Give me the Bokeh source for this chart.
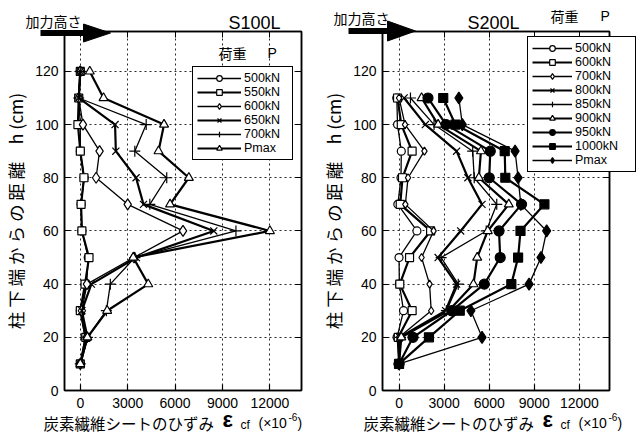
from bokeh.plotting import figure
from bokeh.models import (Range1d, LinearAxis, Legend, LegendItem, FixedTicker)
from bokeh.core.properties import value
from bokeh.layouts import row
from bokeh.embed import file_html
from bokeh.resources import INLINE

# ---------------- data ----------------
heights_L = [10, 20, 30, 40, 50, 60, 70, 80, 90, 100, 110, 120]
L_500 = [0, 300, 0, 400, 500, 100, 50, 250, 0, 0, -100, 0]
L_550 = [0, 350, 0, 300, 550, 100, 50, 230, 0, -150, -100, 0]
L_600 = [0, 400, 100, 420, 3400, 6500, 3000, 1000, 1220, 170, -100, 0]
L_650 = [0, 450, 100, 700, 3550, 8450, 4000, 3530, 2250, 2200, -100, 0]
L_700 = [0, 450, 1650, 1900, 3450, 9850, 4400, 5470, 3450, 4170, -100, 0]
L_pmax = [0, 450, 1700, 4300, 3350, 12000, 5680, 6870, 4950, 5300, 1470, 600]
labels_L = ["500kN", "550kN", "600kN", "650kN", "700kN", "Pmax"]

heights_R = [10, 20, 30, 40, 50, 60, 70, 80, 90, 100, 110]
R_500 = [0, -130, 300, 20, 0, 1190, -80, 130, 150, -100, -150]
R_600 = [0, -50, 870, 50, 700, 2100, 80, 230, 870, 150, -100]
R_700 = [0, 0, 2140, 2030, 1500, 2300, 420, 600, 1690, 400, 0]
R_800 = [0, 50, 3100, 3830, 2600, 4100, 5520, 4580, 3830, 1750, 340]
R_850 = [0, 100, 3150, 3940, 2800, 5800, 6500, 5000, 4900, 2330, 760]
R_900 = [0, 150, 3300, 4950, 5200, 5900, 7300, 5310, 5450, 2600, 1500]
R_950 = [0, 930, 3500, 5670, 6730, 6650, 8150, 6000, 6070, 3130, 1925]
R_1000 = [0, 1990, 4040, 7470, 7920, 8080, 9670, 7070, 7030, 3750, 2940]
R_pmax = [0, 5520, 4780, 8650, 9440, 9820, 8100, 7920, 7720, 4210, 3980]
labels_R = ["500kN", "600kN", "700kN", "800kN", "850kN", "900kN", "950kN", "1000kN", "Pmax"]

x_ticks = [0, 3000, 6000, 9000, 12000]
y_ticks = [0, 20, 40, 60, 80, 100, 120]

NUM_FONT = "Liberation Sans"
JP_FONT = "Noto Sans CJK JP"

# (marker, size, fill, line width)
styles_L = [("circle", 8, "white", 1.3), ("square", 8, "white", 2.2),
            ("diamond", 11, "white", 1.3), ("x", 10, None, 2.2),
            ("cross", 11, None, 1.3), ("triangle", 9, "white", 2.2)]
styles_R = [("circle", 8, "white", 1.3), ("square", 8, "white", 2.2),
            ("diamond", 8, "white", 1.3), ("x", 10, None, 2.2),
            ("cross", 11, None, 1.3), ("triangle", 9, "white", 2.2),
            ("circle", 10, "black", 2.2), ("square", 9, "black", 2.2),
            ("diamond", 12, "black", 1.3)]

YLABEL = "柱 下 端 か ら の 距 離　h (cm)"
XLABEL = "炭素繊維シートのひずみ"

LEG_KW = dict(border_line_color="black", border_line_width=1, border_line_alpha=1,
              background_fill_color="white", background_fill_alpha=1,
              label_text_font=NUM_FONT, label_text_font_size="12.5px", label_text_color="black",
              glyph_height=14, label_height=14, spacing=0, padding=4, label_standoff=3, margin=0)

FRAME_TOP, FRAME_BOTTOM = 31, 390   # shared by both panels (row aligns frames)


def make_panel(fl, fr, canvas_left, canvas_width, xr, yr, heights, series, labels, styles):
    p = figure(width=canvas_width, height=443, output_backend="svg", toolbar_location=None,
               x_range=Range1d(*xr), y_range=Range1d(*yr),
               min_border_left=fl - canvas_left, min_border_right=canvas_left + canvas_width - fr,
               min_border_top=FRAME_TOP, min_border_bottom=443 - FRAME_BOTTOM)
    p.background_fill_color = "white"
    p.border_fill_color = "white"
    p.outline_line_color = "black"
    p.outline_line_width = 1.5

    for ax in (p.xaxis[0], p.yaxis[0]):
        ax.major_tick_in = 6
        ax.major_tick_out = 0
        ax.minor_tick_line_color = None
        ax.axis_line_width = 1.5
        ax.axis_line_color = "black"
        ax.major_tick_line_color = "black"
        ax.major_tick_line_width = 1.2
        ax.major_label_text_font = NUM_FONT
        ax.major_label_text_font_size = "14px"
        ax.major_label_text_color = "black"
    p.xaxis.ticker = FixedTicker(ticks=x_ticks)
    p.yaxis.ticker = FixedTicker(ticks=y_ticks)
    p.xaxis.major_label_standoff = 7
    p.yaxis.major_label_standoff = 6
    p.yaxis.axis_label = YLABEL
    p.yaxis.axis_label_text_font = JP_FONT
    p.yaxis.axis_label_text_font_size = "17.5px"
    p.yaxis.axis_label_text_font_style = "normal"
    p.yaxis.axis_label_text_color = "black"
    p.yaxis.axis_label_standoff = 4

    top = LinearAxis(ticker=FixedTicker(ticks=x_ticks), major_tick_in=6, major_tick_out=0,
                     minor_tick_line_color=None, axis_line_width=1.5,
                     major_label_overrides={t: "" for t in x_ticks})
    right = LinearAxis(ticker=FixedTicker(ticks=y_ticks), major_tick_in=6, major_tick_out=0,
                       minor_tick_line_color=None, axis_line_width=1.5,
                       major_label_overrides={t: "" for t in y_ticks})
    p.add_layout(top, "above")
    p.add_layout(right, "right")

    p.xgrid.ticker = FixedTicker(ticks=x_ticks)
    p.ygrid.ticker = FixedTicker(ticks=y_ticks)
    for g in (p.xgrid[0], p.ygrid[0]):
        g.grid_line_color = "black"
        g.grid_line_dash = "2 3"
        g.grid_line_width = 1
        g.grid_line_alpha = 0.85

    items = []
    for vals, lab, (mk, sz, fill, lw) in zip(series, labels, styles):
        lr = p.line(vals, heights, line_color="black", line_width=lw)
        sr = p.scatter(vals, heights, marker=mk, size=sz, line_color="black",
                       fill_color=fill, line_width=1.2)
        items.append(LegendItem(label=lab, renderers=[lr, sr]))
    return p, items


p1, items_L = make_panel(64, 301, 0, 318, (-1000, 14000), (0, 135), heights_L,
                         [L_500, L_550, L_600, L_650, L_700, L_pmax], labels_L, styles_L)
# left legend lies fully inside the frame: box x 192..291, y 63..160
p1.add_layout(Legend(items=items_L, location=(192 - 64, FRAME_BOTTOM - 160), glyph_width=44,
                     label_width=44, **LEG_KW), "center")

p2, items_R = make_panel(371, 609, 318, 319, (-1100, 14000), (0, 135), heights_R,
                         [R_500, R_600, R_700, R_800, R_850, R_900, R_950, R_1000, R_pmax],
                         labels_R, styles_R)

# ---------- transparent overlay (whole page, pixel coordinates) for the free texts,
# the loading-height arrows and the right legend that overhangs the right frame ----------
ov = figure(width=637, height=443, output_backend="svg", toolbar_location=None, title=None,
            x_range=Range1d(0, 637), y_range=Range1d(443, 0),
            x_axis_type=None, y_axis_type=None, min_border=0,
            min_border_left=0, min_border_right=0, min_border_top=0, min_border_bottom=0,
            styles={"position": "absolute", "left": "0px", "top": "0px"})
ov.background_fill_color = None
ov.border_fill_color = None
ov.outline_line_color = None

texts = [
    ("加力高さ", 25, 20, JP_FONT, "14px", "normal"),
    ("S100L", 228, 22, NUM_FONT, "18px", "normal"),
    ("荷重", 218, 52, JP_FONT, "14px", "normal"),
    ("P", 267, 52, NUM_FONT, "14px", "normal"),
    (XLABEL, 43, 422, JP_FONT, "15.5px", "normal"),
    ("ε", 222, 419, NUM_FONT, "22px", "bold"),
    ("cf", 240, 424, NUM_FONT, "12px", "normal"),
    ("(×10", 258, 422, NUM_FONT, "14px", "normal"),
    ("-6", 288, 416, NUM_FONT, "10px", "normal"),
    (")", 297, 422, NUM_FONT, "14px", "normal"),
    ("加力高さ", 333, 17, JP_FONT, "14px", "normal"),
    ("S200L", 467, 22, NUM_FONT, "18px", "normal"),
    ("荷重", 550, 15, JP_FONT, "14px", "normal"),
    ("P", 600, 15, NUM_FONT, "14px", "normal"),
    (XLABEL, 363, 422, JP_FONT, "15.5px", "normal"),
    ("ε", 542, 419, NUM_FONT, "22px", "bold"),
    ("cf", 560, 424, NUM_FONT, "12px", "normal"),
    ("(×10", 578, 422, NUM_FONT, "14px", "normal"),
    ("-6", 608, 416, NUM_FONT, "10px", "normal"),
    (")", 617, 422, NUM_FONT, "14px", "normal"),
]
for (txt, X, Y, font, size, style) in texts:
    ov.text(x=[X], y=[Y], text=[txt], text_font=value(font), text_font_size=value(size),
            text_font_style=style, text_align="left", text_baseline="middle",
            text_color="black")

# arrows: (bar start, head base, tip, y centre, half height of head)
arrows = [(40, 86, 110, 32.5, 9), (348, 390, 415, 30.5, 10)]
for (xa, xb, xt, yc, hh) in arrows:
    ov.line(x=[xa, xb], y=[yc, yc], line_width=6, line_color="black")
    ov.patch(x=[xb - 3, xt, xb - 3], y=[yc - hh, yc, yc + hh], fill_color="black",
             line_color="black")

# right legend (box x 527..634, y 29..~172) drawn with style-twins of the S200L series;
# the twins sit outside the overlay's visible range so only their legend glyphs show
OFF = [-500, -400]
items_ov = []
for lab, (mk, sz, fill, lw) in zip(labels_R, styles_R):
    lr = ov.line(x=OFF, y=OFF, line_color="black", line_width=lw)
    sr = ov.scatter(x=OFF, y=OFF, marker=mk, size=sz, line_color="black", fill_color=fill,
                    line_width=1.2)
    items_ov.append(LegendItem(label=lab, renderers=[lr, sr]))
ov.add_layout(Legend(items=items_ov, location=(527, 443 - 172), glyph_width=40,
                     label_width=56, **LEG_KW), "center")

layout = row(p1, p2)
open("out.html", "w").write(file_html([layout, ov], INLINE))
